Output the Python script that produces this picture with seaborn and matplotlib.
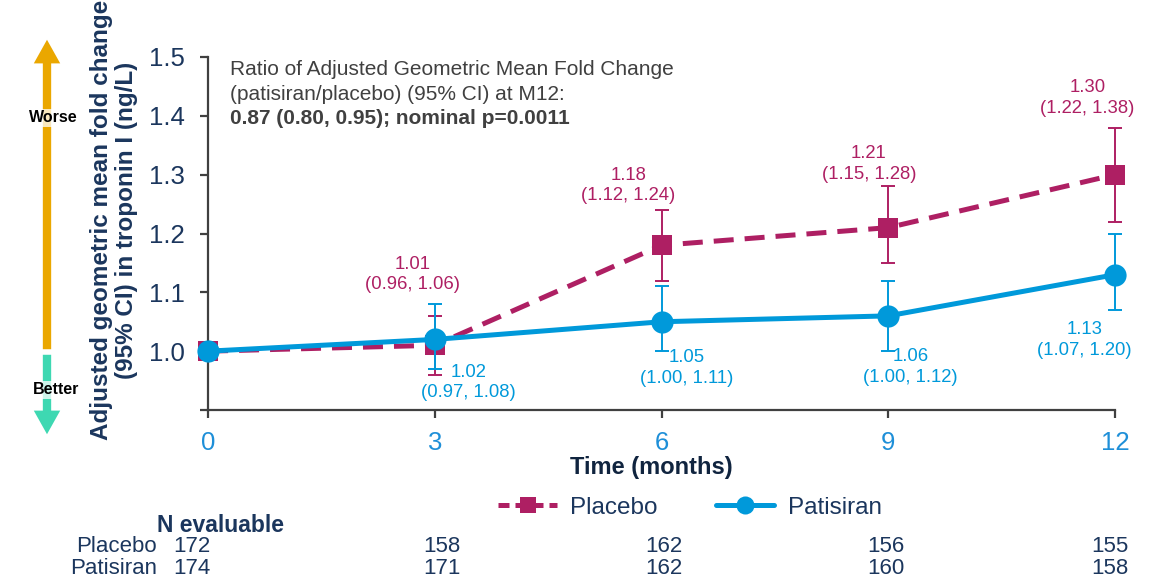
import numpy as np
import pandas as pd
import matplotlib
matplotlib.use("Agg")
import matplotlib.pyplot as plt
from matplotlib.patches import FancyArrowPatch
from matplotlib.lines import Line2D
from matplotlib.transforms import blended_transform_factory
import seaborn as sns

# ---- data -------------------------------------------------------------
months = [0, 3, 6, 9, 12]

placebo_mean = [1.00, 1.01, 1.18, 1.21, 1.30]
placebo_lo = [1.00, 0.96, 1.12, 1.15, 1.22]
placebo_hi = [1.00, 1.06, 1.24, 1.28, 1.38]

patisiran_mean = [1.00, 1.02, 1.05, 1.06, 1.13]
patisiran_lo = [1.00, 0.97, 1.00, 1.00, 1.07]
patisiran_hi = [1.00, 1.08, 1.11, 1.12, 1.20]

n_placebo = [172, 158, 162, 156, 155]
n_patisiran = [174, 171, 162, 160, 158]

y_ticks = [0.9, 1.0, 1.1, 1.2, 1.3, 1.4, 1.5]
y_tick_labels = ["", "1.0", "1.1", "1.2", "1.3", "1.4", "1.5"]

ratio_lines = ["Ratio of Adjusted Geometric Mean Fold Change",
               "(patisiran/placebo) (95% CI) at M12:"]
ratio_bold = "0.87 (0.80, 0.95); nominal p=0.0011"

# ---- style ------------------------------------------------------------
sns.set_theme(style="ticks")
plt.rcParams["font.family"] = ["Liberation Sans", "DejaVu Sans"]

MAGENTA = "#AE1F63"
BLUE = "#0099DA"
TICK_BLUE = "#1E8FD8"
NAVY = "#1B365D"
GREY = "#404040"
SPINE = "#404040"

W, H = 1150, 581

def fxy(px, py):
    """pixel position -> figure fraction"""
    return (px / W, 1 - py / H)

df = pd.DataFrame({
    "month": months * 2,
    "value": placebo_mean + patisiran_mean,
    "group": ["Placebo"] * 5 + ["Patisiran"] * 5,
})

fig = plt.figure(figsize=(11.5, 5.81), dpi=100)
ax = fig.add_axes([0.1809, 0.2943, 0.7887, 0.6076])

# lines with markers
sns.lineplot(data=df[df.group == "Placebo"], x="month", y="value", ax=ax,
             color=MAGENTA, lw=3.6, marker="s", markersize=15,
             markeredgewidth=0, zorder=3, clip_on=False)
ax.lines[-1].set_dashes((4, 2.2))
sns.lineplot(data=df[df.group == "Patisiran"], x="month", y="value", ax=ax,
             color=BLUE, lw=3.6, marker="o", markersize=16,
             markeredgewidth=0, zorder=5, clip_on=False)

# confidence intervals
pm = np.array(placebo_mean)
ax.errorbar(months, pm, yerr=[pm - np.array(placebo_lo), np.array(placebo_hi) - pm],
            fmt="none", ecolor=MAGENTA, elinewidth=1.4, capsize=5, capthick=1.4,
            zorder=2, clip_on=False)
tm = np.array(patisiran_mean)
ax.errorbar(months, tm, yerr=[tm - np.array(patisiran_lo), np.array(patisiran_hi) - tm],
            fmt="none", ecolor=BLUE, elinewidth=1.4, capsize=5, capthick=1.4,
            zorder=4, clip_on=False)

# value labels (offsets in points from each mark)
placebo_offsets = [None, (-16, 51), (-24, 43), (-14, 46), (-20, 55)]
patisiran_offsets = [None, (24, -31), (18, -33), (16, -37), (-22, -47)]
for i, m in enumerate(months):
    if placebo_offsets[i] is not None:
        ax.annotate(f"{placebo_mean[i]:.2f}\n({placebo_lo[i]:.2f}, {placebo_hi[i]:.2f})",
                    xy=(m, placebo_mean[i]), xytext=placebo_offsets[i],
                    textcoords="offset points", ha="center", va="center",
                    multialignment="center", fontsize=13.3, color=MAGENTA,
                    linespacing=1.3, annotation_clip=False)
    if patisiran_offsets[i] is not None:
        ax.annotate(f"{patisiran_mean[i]:.2f}\n({patisiran_lo[i]:.2f}, {patisiran_hi[i]:.2f})",
                    xy=(m, patisiran_mean[i]), xytext=patisiran_offsets[i],
                    textcoords="offset points", ha="center", va="center",
                    multialignment="center", fontsize=13.3, color=BLUE,
                    linespacing=1.3, annotation_clip=False)

# axes styling
ax.set_xlim(0, 12)
ax.set_ylim(0.9, 1.5)
ax.set_xticks(months)
ax.set_xticklabels([str(m) for m in months])
ax.set_yticks(y_ticks)
ax.set_yticklabels(y_tick_labels)
for s in ["top", "right"]:
    ax.spines[s].set_visible(False)
for s in ["left", "bottom"]:
    ax.spines[s].set_color(SPINE)
    ax.spines[s].set_linewidth(1.6)
ax.tick_params(axis="both", direction="out", length=6, width=1.6, color=SPINE)
ax.tick_params(axis="x", labelsize=18.5, labelcolor=TICK_BLUE, pad=9)
ax.tick_params(axis="y", labelsize=18.5, labelcolor=NAVY, pad=11)
ax.set_ylabel("")
ax.set_xlabel("Time (months)", fontsize=17, fontweight="bold", color="#10243F")
ax.xaxis.label.set_va("center")
ax.xaxis.set_label_coords((651 - 208) / 907, (410 - 467) / 353)

# ratio annotation
for py, line in zip([70, 94], ratio_lines):
    fig.text(*fxy(230, py), line, ha="left", va="center", fontsize=15, color=GREY)
fig.text(*fxy(230, 118), ratio_bold, ha="left", va="center", fontsize=15,
         color=GREY, fontweight="bold")

# y-axis title
fig.text(*fxy(114, 220),
         "Adjusted geometric mean fold change\n(95% CI) in troponin I (ng/L)",
         rotation=90, ha="center", va="center", fontsize=17.5, fontweight="bold",
         color=NAVY, linespacing=1.15, multialignment="center")

# worse / better arrow
up = FancyArrowPatch(fxy(47, 352), fxy(47, 37), transform=fig.transFigure,
                     arrowstyle="simple,head_length=17,head_width=19,tail_width=6",
                     mutation_scale=1, color="#EAA700", lw=0)
down = FancyArrowPatch(fxy(47, 352), fxy(47, 437), transform=fig.transFigure,
                       arrowstyle="simple,head_length=17,head_width=19,tail_width=6",
                       mutation_scale=1, color="#3ED8B2", lw=0)
fig.add_artist(up)
fig.add_artist(down)
fig.text(*fxy(53, 118), "Worse", ha="center", va="center", fontsize=11.5,
         fontweight="bold", color="black",
         bbox=dict(boxstyle="square,pad=0.1", fc="white", ec="none", alpha=0.75))
fig.text(*fxy(56, 390), "Better", ha="center", va="center", fontsize=11.5,
         fontweight="bold", color="black",
         bbox=dict(boxstyle="square,pad=0.1", fc="white", ec="none", alpha=0.75))

# legend
handles = [
    Line2D([], [], color=MAGENTA, lw=3.6, dashes=(2.2, 1.2), marker="s",
           markersize=12, markeredgewidth=0),
    Line2D([], [], color=BLUE, lw=3.6, marker="o", markersize=13,
           markeredgewidth=0),
]
fig.legend(handles, ["Placebo", "Patisiran"], loc="center",
           bbox_to_anchor=(0.6, 0.126), ncol=2, frameon=False, fontsize=17.5,
           handlelength=2.4, columnspacing=2.4, handletextpad=0.55,
           labelcolor=NAVY)

# N evaluable table
tr = blended_transform_factory(ax.transData, fig.transFigure)
fig.text(157 / W, 1 - 525 / H, "N evaluable", ha="left", va="center",
         fontsize=16.5, fontweight="bold", color=NAVY)
fig.text(157 / W, 1 - 546 / H, "Placebo", ha="right", va="center",
         fontsize=16, color=NAVY)
fig.text(157 / W, 1 - 568 / H, "Patisiran", ha="right", va="center",
         fontsize=16, color=NAVY)
n_shift = [-0.22, 0.1, 0.03, -0.03, -0.07]
for i, m in enumerate(months):
    ax.text(m + n_shift[i], 1 - 546 / H, str(n_placebo[i]), transform=tr,
            ha="center", va="center", fontsize=16, color=NAVY)
    ax.text(m + n_shift[i], 1 - 568 / H, str(n_patisiran[i]), transform=tr,
            ha="center", va="center", fontsize=16, color=NAVY)

fig.savefig("out.png", dpi=100)
